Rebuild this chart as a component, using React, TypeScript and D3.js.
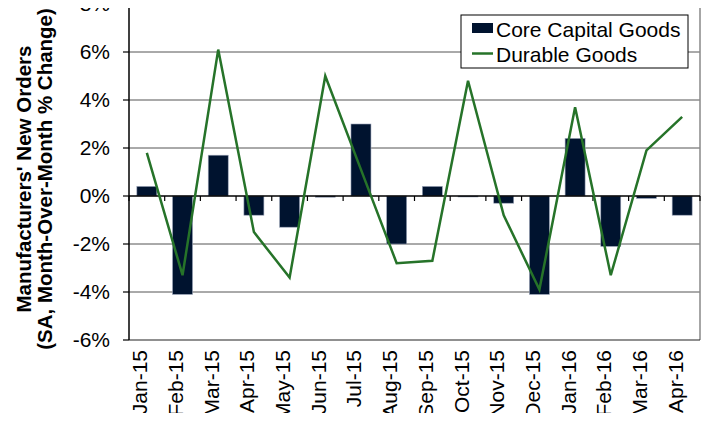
import React, { useRef, useEffect } from 'react';
import * as d3 from 'd3';

const months = ['Jan-15', 'Feb-15', 'Mar-15', 'Apr-15', 'May-15', 'Jun-15', 'Jul-15', 'Aug-15',
  'Sep-15', 'Oct-15', 'Nov-15', 'Dec-15', 'Jan-16', 'Feb-16', 'Mar-16', 'Apr-16'];
const coreCapital = [0.4, -4.1, 1.7, -0.8, -1.3, -0.05, 3.0, -2.0, 0.4, -0.03, -0.3, -4.1, 2.4, -2.1, -0.1, -0.8];
const durable = [1.8, -3.3, 6.1, -1.5, -3.4, 5.0, 1.1, -2.8, -2.7, 4.8, -0.8, -3.9, 3.7, -3.3, 1.9, 3.3];
const yTicks = [-6, -4, -2, 0, 2, 4, 6, 8];

const FONT = '"Liberation Sans", Arial, sans-serif';

const App = () => {
  const chartRef = useRef(null);

  useEffect(() => {
    const width = 710;
    const height = 421;
    const left = 129, right = 700, top = 4, bottom = 340;

    d3.select(chartRef.current).select('svg').remove();
    const svg = d3
      .select(chartRef.current)
      .append('svg')
      .attr('width', width)
      .attr('height', height)
      .style('display', 'block')
      .style('background', 'white');

    const x = d3.scaleBand().domain(months).range([left, right]).paddingInner(0.44).paddingOuter(0.22);
    const y = d3.scaleLinear().domain([-6, 8]).range([bottom, top]);
    const step = x.step();
    const cx = (m) => x(m) + x.bandwidth() / 2;

    // gridlines
    svg.selectAll('.grid')
      .data(yTicks.filter(t => t !== 0 && t !== -6 && t !== 8))
      .enter()
      .append('line')
      .attr('x1', left).attr('x2', right)
      .attr('y1', d => y(d)).attr('y2', d => y(d))
      .attr('stroke', '#555')
      .attr('stroke-width', 1);

    // frame: top dark, right grey, bottom black
    svg.append('line').attr('x1', left).attr('x2', right).attr('y1', y(8)).attr('y2', y(8))
      .attr('stroke', '#222').attr('stroke-width', 1.2);
    svg.append('line').attr('x1', right).attr('x2', right).attr('y1', top).attr('y2', bottom)
      .attr('stroke', '#888').attr('stroke-width', 1.5);
    svg.append('line').attr('x1', left).attr('x2', right).attr('y1', bottom).attr('y2', bottom)
      .attr('stroke', '#222').attr('stroke-width', 1.2);

    // bars
    svg.selectAll('.bar')
      .data(coreCapital)
      .enter()
      .append('rect')
      .attr('class', 'bar')
      .attr('x', (d, i) => x(months[i]))
      .attr('y', d => y(Math.max(0, d)))
      .attr('width', x.bandwidth())
      .attr('height', d => Math.max(1, Math.abs(y(d) - y(0))))
      .attr('fill', '#00132f')
      .attr('stroke', '#9aa4b8')
      .attr('stroke-width', 0.6);

    // zero axis with ticks
    svg.append('line').attr('x1', left).attr('x2', right).attr('y1', y(0)).attr('y2', y(0))
      .attr('stroke', '#000').attr('stroke-width', 1.5);
    svg.selectAll('.ztick')
      .data(d3.range(months.length + 1))
      .enter()
      .append('line')
      .attr('x1', i => left + i * step).attr('x2', i => left + i * step)
      .attr('y1', y(0)).attr('y2', y(0) + 5)
      .attr('stroke', '#000').attr('stroke-width', 1.2);

    // left axis
    svg.append('line').attr('x1', left).attr('x2', left).attr('y1', top).attr('y2', bottom)
      .attr('stroke', '#000').attr('stroke-width', 1.5);
    svg.selectAll('.ytick')
      .data(yTicks)
      .enter()
      .append('line')
      .attr('x1', left - 6).attr('x2', left)
      .attr('y1', d => y(d)).attr('y2', d => y(d))
      .attr('stroke', '#000').attr('stroke-width', 1.2);
    svg.selectAll('.ylabel')
      .data(yTicks)
      .enter()
      .append('text')
      .attr('x', 110)
      .attr('y', d => y(d))
      .attr('dy', '0.35em')
      .attr('text-anchor', 'end')
      .style('font-family', FONT)
      .style('font-size', '21px')
      .style('fill', '#000')
      .text(d => `${d}%`);

    // line
    const line = d3.line().x((d, i) => cx(months[i])).y(d => y(d));
    svg.append('path')
      .datum(durable)
      .attr('d', line)
      .attr('fill', 'none')
      .attr('stroke', '#267329')
      .attr('stroke-width', 2.5)
      .attr('stroke-linejoin', 'miter');

    // x labels
    svg.selectAll('.xlabel')
      .data(months)
      .enter()
      .append('text')
      .attr('transform', d => `translate(${cx(d) + 0.5},350) rotate(-90)`)
      .attr('text-anchor', 'end')
      .style('font-family', FONT)
      .style('font-size', '21px')
      .style('fill', '#000')
      .text(d => d);

    // y title
    const title = svg.append('text')
      .attr('transform', 'translate(0,179) rotate(-90)')
      .attr('text-anchor', 'middle')
      .style('font-family', FONT)
      .style('font-size', '20.5px')
      .style('font-weight', 'bold')
      .style('fill', '#000');
    title.append('tspan').attr('x', 0).attr('y', 31).text("Manufacturers' New Orders");
    title.append('tspan').attr('x', 0).attr('y', 52).text('(SA, Month-Over-Month % Change)');

    // legend
    const lg = svg.append('g').attr('transform', 'translate(461,15)');
    lg.append('rect').attr('width', 227).attr('height', 53)
      .attr('fill', '#fff').attr('stroke', '#000').attr('stroke-width', 1);
    lg.append('rect').attr('x', 11).attr('y', 8).attr('width', 21).attr('height', 10).attr('fill', '#00132f');
    lg.append('text').attr('x', 35).attr('y', 22)
      .style('font-family', FONT).style('font-size', '21px').style('fill', '#000')
      .text('Core Capital Goods');
    lg.append('line').attr('x1', 11).attr('x2', 32).attr('y1', 38.5).attr('y2', 38.5)
      .attr('stroke', '#267329').attr('stroke-width', 2.5);
    lg.append('text').attr('x', 35).attr('y', 46.5)
      .style('font-family', FONT).style('font-size', '21px').style('fill', '#000')
      .text('Durable Goods');
  }, []);

  return <div ref={chartRef} style={{ margin: -8 }}></div>;
};

export default App;
